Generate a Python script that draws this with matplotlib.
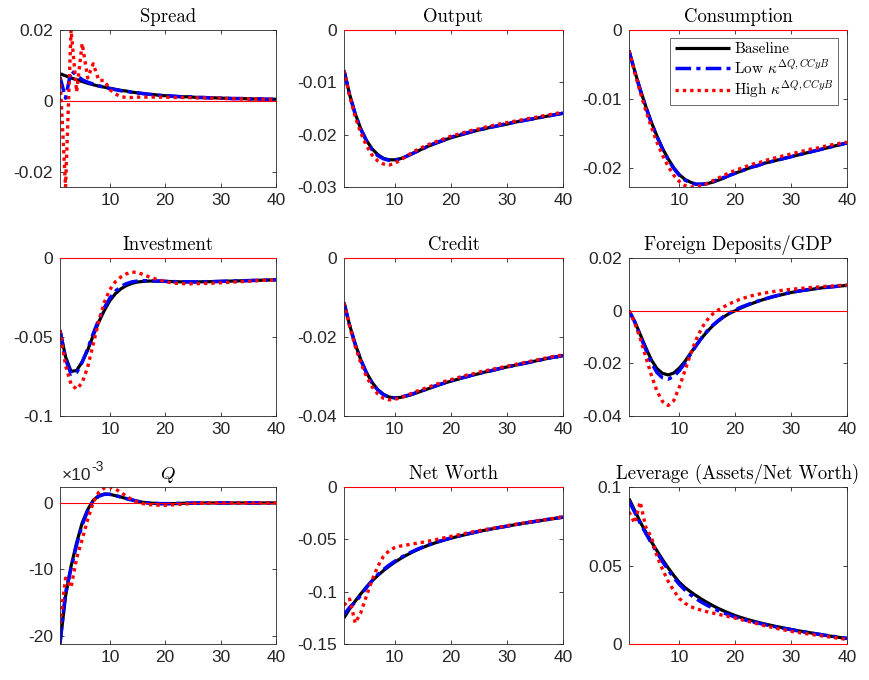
import numpy as np
import matplotlib
matplotlib.use('Agg')
import matplotlib.pyplot as plt

plt.rcParams['mathtext.fontset'] = 'cm'
plt.rcParams['font.family'] = ['Liberation Sans', 'DejaVu Sans']

periods = list(range(1, 41))

# Spread
spread_base = [0.0077, 0.0071, 0.0065, 0.0060, 0.0055, 0.0050, 0.0046, 0.0042, 0.0039, 0.0036,
               0.0033, 0.0030, 0.0028, 0.0025, 0.0023, 0.0021, 0.0019, 0.0018, 0.0016, 0.0015,
               0.0014, 0.0013, 0.0012, 0.0012, 0.0011, 0.0010, 0.0010, 0.0009, 0.0009, 0.0008,
               0.0008, 0.0007, 0.0007, 0.0007, 0.0006, 0.0006, 0.0006, 0.0005, 0.0005, 0.0005]
spread_low = [0.0068, 0.0008, 0.0085, 0.0073, 0.0060, 0.0053, 0.0048, 0.0043, 0.0039, 0.0035,
              0.0032, 0.0029, 0.0027, 0.0025, 0.0023, 0.0021, 0.0019, 0.0018, 0.0016, 0.0015,
              0.0014, 0.0013, 0.0012, 0.0012, 0.0011, 0.0010, 0.0010, 0.0009, 0.0009, 0.0008,
              0.0008, 0.0007, 0.0007, 0.0007, 0.0006, 0.0006, 0.0006, 0.0005, 0.0005, 0.0005]
spread_high = [0.0068, -0.0242, 0.0200, 0.0026, 0.0162, 0.0065, 0.0105, 0.0058, 0.0058, 0.0032,
               0.0020, 0.0012, 0.0010, 0.0010, 0.0011, 0.0011, 0.0011, 0.0011, 0.0011, 0.0011,
               0.0010, 0.0010, 0.0010, 0.0010, 0.0009, 0.0009, 0.0009, 0.0008, 0.0008, 0.0008,
               0.0007, 0.0007, 0.0007, 0.0006, 0.0006, 0.0006, 0.0006, 0.0005, 0.0005, 0.0005]

# Output
output_base = [-0.0077, -0.0123, -0.0160, -0.0189, -0.0211, -0.0227, -0.0238, -0.0245, -0.0248, -0.0248,
               -0.0246, -0.0242, -0.0237, -0.0232, -0.0227, -0.0222, -0.0218, -0.0214, -0.0210, -0.0206,
               -0.0203, -0.0200, -0.0197, -0.0194, -0.0191, -0.0189, -0.0186, -0.0184, -0.0182, -0.0180,
               -0.0177, -0.0175, -0.0173, -0.0171, -0.0169, -0.0167, -0.0165, -0.0163, -0.0161, -0.0159]
output_low = [-0.0077, -0.0124, -0.0161, -0.0190, -0.0212, -0.0229, -0.0240, -0.0246, -0.0249, -0.0249,
              -0.0246, -0.0242, -0.0237, -0.0232, -0.0227, -0.0222, -0.0217, -0.0213, -0.0209, -0.0205,
              -0.0202, -0.0199, -0.0196, -0.0193, -0.0191, -0.0188, -0.0186, -0.0184, -0.0181, -0.0179,
              -0.0177, -0.0175, -0.0173, -0.0171, -0.0169, -0.0167, -0.0165, -0.0163, -0.0161, -0.0159]
output_high = [-0.0077, -0.0126, -0.0166, -0.0197, -0.0221, -0.0239, -0.0250, -0.0256, -0.0258, -0.0255,
               -0.0249, -0.0242, -0.0235, -0.0229, -0.0224, -0.0219, -0.0215, -0.0211, -0.0207, -0.0203,
               -0.0200, -0.0197, -0.0194, -0.0191, -0.0189, -0.0186, -0.0184, -0.0181, -0.0179, -0.0177,
               -0.0175, -0.0173, -0.0171, -0.0169, -0.0167, -0.0165, -0.0163, -0.0161, -0.0159, -0.0157]

# Consumption
cons_base = [-0.0030, -0.0059, -0.0086, -0.0111, -0.0134, -0.0154, -0.0172, -0.0187, -0.0200, -0.0210,
             -0.0217, -0.0221, -0.0224, -0.0224, -0.0223, -0.0221, -0.0218, -0.0215, -0.0211, -0.0208,
             -0.0205, -0.0202, -0.0199, -0.0197, -0.0194, -0.0192, -0.0190, -0.0188, -0.0186, -0.0184,
             -0.0182, -0.0180, -0.0178, -0.0176, -0.0174, -0.0172, -0.0170, -0.0168, -0.0166, -0.0164]
cons_low = [-0.0030, -0.0060, -0.0087, -0.0112, -0.0135, -0.0155, -0.0173, -0.0188, -0.0201, -0.0211,
            -0.0218, -0.0222, -0.0224, -0.0224, -0.0223, -0.0220, -0.0217, -0.0214, -0.0211, -0.0208,
            -0.0205, -0.0202, -0.0199, -0.0197, -0.0194, -0.0192, -0.0190, -0.0188, -0.0186, -0.0184,
            -0.0182, -0.0180, -0.0178, -0.0176, -0.0174, -0.0172, -0.0170, -0.0168, -0.0166, -0.0164]
cons_high = [-0.0030, -0.0061, -0.0090, -0.0117, -0.0141, -0.0163, -0.0182, -0.0198, -0.0211, -0.0220,
             -0.0226, -0.0228, -0.0228, -0.0226, -0.0223, -0.0219, -0.0215, -0.0211, -0.0207, -0.0204,
             -0.0201, -0.0198, -0.0195, -0.0193, -0.0191, -0.0188, -0.0186, -0.0184, -0.0182, -0.0180,
             -0.0178, -0.0176, -0.0174, -0.0172, -0.0171, -0.0169, -0.0167, -0.0166, -0.0164, -0.0163]

# Investment
inv_base = [-0.0457, -0.0625, -0.0718, -0.0712, -0.0657, -0.0583, -0.0490, -0.0405, -0.0332, -0.0270,
            -0.0226, -0.0195, -0.0174, -0.0160, -0.0152, -0.0148, -0.0146, -0.0146, -0.0147, -0.0148,
            -0.0149, -0.0150, -0.0151, -0.0151, -0.0151, -0.0151, -0.0150, -0.0150, -0.0149, -0.0148,
            -0.0147, -0.0146, -0.0145, -0.0144, -0.0143, -0.0142, -0.0141, -0.0140, -0.0139, -0.0138]
inv_low = [-0.0457, -0.0640, -0.0735, -0.0725, -0.0660, -0.0575, -0.0478, -0.0390, -0.0315, -0.0254,
           -0.0210, -0.0180, -0.0162, -0.0151, -0.0146, -0.0144, -0.0144, -0.0145, -0.0146, -0.0148,
           -0.0149, -0.0150, -0.0151, -0.0151, -0.0151, -0.0151, -0.0150, -0.0150, -0.0149, -0.0148,
           -0.0147, -0.0146, -0.0145, -0.0144, -0.0143, -0.0142, -0.0141, -0.0140, -0.0139, -0.0138]
inv_high = [-0.0457, -0.0680, -0.0800, -0.0830, -0.0790, -0.0690, -0.0545, -0.0400, -0.0280, -0.0200,
            -0.0150, -0.0120, -0.0100, -0.0089, -0.0092, -0.0104, -0.0118, -0.0130, -0.0140, -0.0150,
            -0.0156, -0.0160, -0.0162, -0.0163, -0.0163, -0.0162, -0.0161, -0.0160, -0.0159, -0.0157,
            -0.0155, -0.0153, -0.0151, -0.0149, -0.0147, -0.0145, -0.0143, -0.0141, -0.0140, -0.0139]

# Credit
credit_base = [-0.0113, -0.0170, -0.0218, -0.0258, -0.0290, -0.0315, -0.0333, -0.0345, -0.0352, -0.0354,
               -0.0353, -0.0350, -0.0346, -0.0341, -0.0336, -0.0331, -0.0326, -0.0321, -0.0316, -0.0312,
               -0.0308, -0.0304, -0.0300, -0.0296, -0.0293, -0.0289, -0.0286, -0.0283, -0.0279, -0.0276,
               -0.0273, -0.0270, -0.0267, -0.0264, -0.0261, -0.0258, -0.0255, -0.0252, -0.0250, -0.0247]
credit_low = [-0.0113, -0.0171, -0.0219, -0.0259, -0.0291, -0.0316, -0.0334, -0.0346, -0.0352, -0.0354,
              -0.0352, -0.0349, -0.0345, -0.0340, -0.0335, -0.0330, -0.0325, -0.0320, -0.0316, -0.0311,
              -0.0307, -0.0303, -0.0300, -0.0296, -0.0292, -0.0289, -0.0286, -0.0282, -0.0279, -0.0276,
              -0.0273, -0.0270, -0.0267, -0.0264, -0.0261, -0.0258, -0.0255, -0.0252, -0.0250, -0.0247]
credit_high = [-0.0113, -0.0173, -0.0224, -0.0266, -0.0300, -0.0326, -0.0344, -0.0355, -0.0359, -0.0358,
               -0.0354, -0.0349, -0.0343, -0.0337, -0.0332, -0.0327, -0.0322, -0.0317, -0.0312, -0.0308,
               -0.0304, -0.0300, -0.0296, -0.0293, -0.0289, -0.0286, -0.0283, -0.0280, -0.0277, -0.0274,
               -0.0271, -0.0268, -0.0265, -0.0262, -0.0259, -0.0256, -0.0253, -0.0250, -0.0248, -0.0245]

# Foreign Deposits/GDP
fd_base = [0.0000, -0.0040, -0.0090, -0.0140, -0.0187, -0.0220, -0.0238, -0.0244, -0.0237, -0.0218,
           -0.0193, -0.0162, -0.0132, -0.0104, -0.0079, -0.0057, -0.0039, -0.0023, -0.0010, 0.0000,
           0.0010, 0.0019, 0.0027, 0.0035, 0.0042, 0.0048, 0.0054, 0.0059, 0.0064, 0.0069,
           0.0073, 0.0076, 0.0079, 0.0082, 0.0085, 0.0088, 0.0090, 0.0092, 0.0094, 0.0096]
fd_low = [0.0000, -0.0042, -0.0095, -0.0148, -0.0198, -0.0235, -0.0255, -0.0260, -0.0250, -0.0228,
          -0.0199, -0.0166, -0.0133, -0.0103, -0.0077, -0.0055, -0.0037, -0.0021, -0.0008, 0.0003,
          0.0013, 0.0021, 0.0029, 0.0036, 0.0043, 0.0049, 0.0055, 0.0060, 0.0065, 0.0069,
          0.0073, 0.0077, 0.0080, 0.0083, 0.0086, 0.0088, 0.0090, 0.0092, 0.0094, 0.0096]
fd_high = [0.0000, -0.0045, -0.0105, -0.0175, -0.0245, -0.0305, -0.0345, -0.0360, -0.0342, -0.0290,
           -0.0228, -0.0165, -0.0110, -0.0066, -0.0035, -0.0012, 0.0003, 0.0015, 0.0026, 0.0036,
           0.0044, 0.0051, 0.0057, 0.0062, 0.0066, 0.0070, 0.0073, 0.0076, 0.0079, 0.0081,
           0.0083, 0.0085, 0.0087, 0.0089, 0.0090, 0.0092, 0.0093, 0.0095, 0.0096, 0.0097]

# Q (units of 1e-3)
q_base = [-21.2, -14.0, -9.5, -6.0, -3.0, -1.0, 0.4, 1.1, 1.35, 1.3,
          1.1, 0.9, 0.65, 0.45, 0.25, 0.1, 0.0, -0.05, -0.1, -0.1,
          -0.1, -0.08, -0.05, -0.03, -0.02, -0.01, 0.0, 0.0, 0.0, 0.0,
          0.0, 0.0, 0.0, 0.0, 0.0, 0.0, 0.0, 0.0, 0.0, 0.0]
q_low = [-21.0, -13.5, -9.8, -6.3, -3.3, -1.2, 0.3, 1.0, 1.3, 1.3,
         1.1, 0.9, 0.65, 0.45, 0.25, 0.1, 0.0, -0.05, -0.1, -0.1,
         -0.1, -0.08, -0.05, -0.03, -0.02, -0.01, 0.0, 0.0, 0.0, 0.0,
         0.0, 0.0, 0.0, 0.0, 0.0, 0.0, 0.0, 0.0, 0.0, 0.0]
q_high = [-18.2, -11.3, -12.7, -8.3, -5.5, -2.5, 0.1, 1.6, 2.25, 2.4,
          2.1, 1.6, 1.0, 0.5, 0.15, -0.1, -0.25, -0.3, -0.35, -0.35,
          -0.3, -0.25, -0.2, -0.12, -0.06, -0.03, -0.01, 0.0, 0.0, 0.0,
          0.0, 0.0, 0.0, 0.0, 0.0, 0.0, 0.0, 0.0, 0.0, 0.0]

# Net Worth
nw_base = [-0.1250, -0.1165, -0.1090, -0.1020, -0.0955, -0.0897, -0.0846, -0.0800, -0.0758, -0.0720,
           -0.0686, -0.0655, -0.0627, -0.0601, -0.0578, -0.0557, -0.0538, -0.0521, -0.0505, -0.0490,
           -0.0476, -0.0463, -0.0450, -0.0438, -0.0425, -0.0414, -0.0404, -0.0394, -0.0384, -0.0375,
           -0.0365, -0.0356, -0.0347, -0.0338, -0.0330, -0.0321, -0.0313, -0.0305, -0.0297, -0.0289]
nw_low = [-0.1220, -0.1150, -0.1100, -0.1035, -0.0960, -0.0895, -0.0838, -0.0790, -0.0748, -0.0711,
          -0.0678, -0.0648, -0.0621, -0.0596, -0.0574, -0.0554, -0.0535, -0.0518, -0.0502, -0.0487,
          -0.0474, -0.0461, -0.0448, -0.0436, -0.0424, -0.0413, -0.0403, -0.0393, -0.0383, -0.0374,
          -0.0364, -0.0355, -0.0346, -0.0337, -0.0329, -0.0320, -0.0312, -0.0304, -0.0296, -0.0288]
nw_high = [-0.1130, -0.1070, -0.1300, -0.1200, -0.1040, -0.0890, -0.0760, -0.0665, -0.0610, -0.0580,
           -0.0565, -0.0555, -0.0546, -0.0537, -0.0528, -0.0518, -0.0507, -0.0495, -0.0483, -0.0472,
           -0.0461, -0.0450, -0.0439, -0.0428, -0.0418, -0.0408, -0.0398, -0.0389, -0.0380, -0.0370,
           -0.0361, -0.0352, -0.0343, -0.0335, -0.0326, -0.0318, -0.0310, -0.0302, -0.0294, -0.0280]

# Leverage (Assets/Net Worth)
lev_base = [0.0926, 0.0852, 0.0778, 0.0713, 0.0651, 0.0594, 0.0537, 0.0485, 0.0437, 0.0393,
            0.0360, 0.0333, 0.0308, 0.0285, 0.0264, 0.0244, 0.0226, 0.0210, 0.0195, 0.0181,
            0.0169, 0.0158, 0.0148, 0.0139, 0.0130, 0.0122, 0.0114, 0.0107, 0.0100, 0.0093,
            0.0086, 0.0080, 0.0074, 0.0068, 0.0062, 0.0056, 0.0050, 0.0045, 0.0040, 0.0035]
lev_low = [0.0910, 0.0840, 0.0770, 0.0705, 0.0643, 0.0583, 0.0525, 0.0472, 0.0423, 0.0380,
           0.0344, 0.0314, 0.0288, 0.0266, 0.0246, 0.0228, 0.0212, 0.0197, 0.0184, 0.0172,
           0.0161, 0.0151, 0.0142, 0.0134, 0.0126, 0.0118, 0.0111, 0.0104, 0.0097, 0.0091,
           0.0085, 0.0079, 0.0073, 0.0067, 0.0062, 0.0056, 0.0051, 0.0046, 0.0041, 0.0036]
lev_high = [0.0841, 0.0770, 0.0905, 0.0745, 0.0680, 0.0560, 0.0475, 0.0400, 0.0340, 0.0290,
            0.0260, 0.0238, 0.0225, 0.0215, 0.0205, 0.0197, 0.0189, 0.0181, 0.0173, 0.0165,
            0.0156, 0.0147, 0.0138, 0.0129, 0.0119, 0.0111, 0.0103, 0.0095, 0.0088, 0.0081,
            0.0075, 0.0069, 0.0064, 0.0059, 0.0054, 0.0049, 0.0044, 0.0039, 0.0034, 0.0029]

titles = ['Spread', 'Output', 'Consumption', 'Investment', 'Credit',
          'Foreign Deposits/GDP', r'$Q$', 'Net Worth', 'Leverage (Assets/Net Worth)']
series = [(spread_base, spread_low, spread_high), (output_base, output_low, output_high),
          (cons_base, cons_low, cons_high), (inv_base, inv_low, inv_high),
          (credit_base, credit_low, credit_high), (fd_base, fd_low, fd_high),
          (q_base, q_low, q_high), (nw_base, nw_low, nw_high), (lev_base, lev_low, lev_high)]
ylims = [(-0.0242, 0.02), (-0.03, 0), (-0.0228, 0), (-0.1, 0), (-0.04, 0),
         (-0.04, 0.02), (-21.2, 2.4), (-0.15, 0), (0, 0.1)]
yticks = [([-0.02, 0, 0.02], ['-0.02', '0', '0.02']),
          ([-0.03, -0.02, -0.01, 0], ['-0.03', '-0.02', '-0.01', '0']),
          ([-0.02, -0.01, 0], ['-0.02', '-0.01', '0']),
          ([-0.1, -0.05, 0], ['-0.1', '-0.05', '0']),
          ([-0.04, -0.02, 0], ['-0.04', '-0.02', '0']),
          ([-0.04, -0.02, 0, 0.02], ['-0.04', '-0.02', '0', '0.02']),
          ([-20, -10, 0], ['-20', '-10', '0']),
          ([-0.15, -0.1, -0.05, 0], ['-0.15', '-0.1', '-0.05', '0']),
          ([0, 0.05, 0.1], ['0', '0.05', '0.1'])]
xticks = [10, 20, 30, 40]
labels = ['Baseline', r'Low $\kappa^{\Delta Q,CCyB}$', r'High $\kappa^{\Delta Q,CCyB}$']

W, H = 869, 680
col_px = [(60, 276), (344, 563), (629, 847)]
row_px = [(30, 187), (258, 416), (487, 644)]

fig = plt.figure(figsize=(W / 100, H / 100), dpi=100)
dark = '#262626'

for i in range(9):
    r, c = divmod(i, 3)
    x0, x1 = col_px[c]
    y0, y1 = row_px[r]
    ax = fig.add_axes([x0 / W, 1 - y1 / H, (x1 - x0) / W, (y1 - y0) / H])
    base, low, high = series[i]
    ax.plot(periods, base, color='black', lw=2.3, solid_capstyle='butt', label=labels[0])
    ax.plot(periods, low, color='blue', lw=2.5, linestyle=(0, (4.5, 1.5, 1.2, 1.5)), label=labels[1])
    ax.plot(periods, high, color='red', lw=2.4, linestyle=(0, (1, 1.2)), label=labels[2])
    ax.plot([1, 40], [0, 0], color='red', lw=0.8, zorder=3, clip_on=False)
    ax.set_xlim(1, 40)
    ax.set_ylim(*ylims[i])
    ax.set_xticks(xticks)
    ax.set_xticklabels([str(t) for t in xticks])
    ax.set_yticks(yticks[i][0])
    ax.set_yticklabels(yticks[i][1])
    ax.tick_params(direction='in', length=3, width=0.6, top=True, right=True,
                   labelsize=12.5, colors=dark, pad=4)
    ax.tick_params(axis='y', pad=5)
    for s in ax.spines.values():
        s.set_linewidth(0.6)
        s.set_color(dark)
    if i == 6:
        ax.set_title(titles[i], fontsize=13.5, pad=6)
        ax.text(0.01, 1.025, '×10', transform=ax.transAxes, fontsize=12.5, color=dark,
                ha='left', va='bottom')
        ax.text(0.145, 1.085, '-3', transform=ax.transAxes, fontsize=10, color=dark,
                ha='left', va='bottom')
    else:
        ax.set_title(titles[i], fontsize=13.5, pad=6, family='cmr10')
    if i == 2:
        leg = ax.legend(loc='upper right', bbox_to_anchor=(0.96, 0.95), prop={'family': 'cmr10', 'size': 11},
                        frameon=True, fancybox=False, handlelength=3.6, borderpad=0.3,
                        labelspacing=0.15, handletextpad=0.3, borderaxespad=0)
        leg.get_frame().set_edgecolor(dark)
        leg.get_frame().set_linewidth(0.6)

fig.savefig('out.png', dpi=100)
